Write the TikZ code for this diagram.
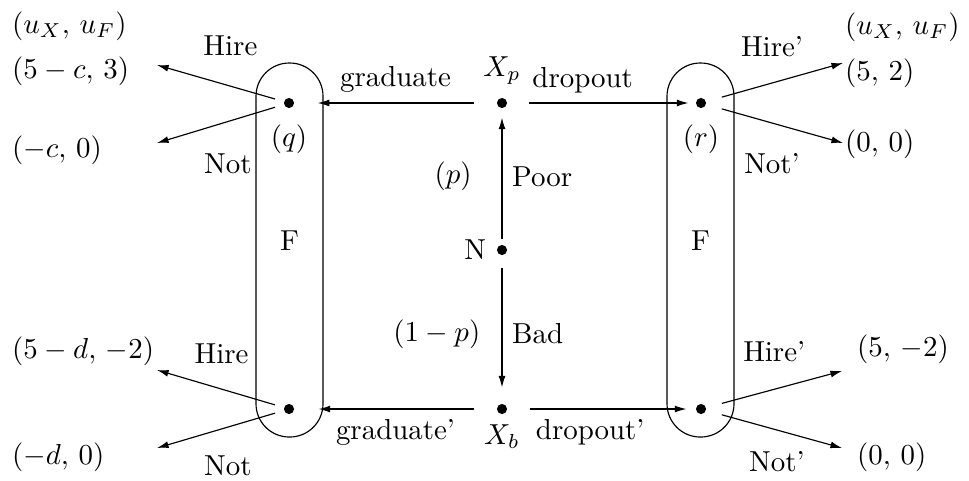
\documentclass[tikz,border=0pt]{standalone}
\usepackage{amsmath}
\usetikzlibrary{arrows.meta, positioning, fit}

\begin{document}
\begin{tikzpicture}[
    x=0.346pt, y=-0.346pt,
    dot/.style={circle, fill=black, inner sep=0pt, minimum size=3.5pt},
    infoset/.style={draw, rounded corners=11.5pt, inner sep=0pt},
    move/.style={-{Latex[length=4pt, width=2.4pt]}},
    payoff/.style={anchor=west}
]
    \useasboundingbox (0,0) rectangle (969,480);

    % nature and the worker
    \node[dot, label={left:N}] (N) at (502,250) {};
    \node[dot, label={[label distance=1pt]above:$X_p$}] (Xp) at (502,103) {};
    \node[dot, label={below:$X_b$}] (Xb) at (502,409) {};

    % firm nodes
    \node[dot, label={[label distance=2pt]below:$(q)$}] (q) at (289,103) {};
    \node[dot] (qb) at (289,409) {};
    \node[dot, label={[label distance=2pt]below:$(r)$}] (r) at (701,103) {};
    \node[dot] (rb) at (701,409) {};

    % information sets
    \node[infoset, fit={(256,63) (323,437)}] (Fl) {F};
    \node[infoset, fit={(667,63) (734,437)}] (Fr) {F};

    % payoffs
    \node[payoff] (ul) at (2,26) {$(u_X{,}\ u_F)$};
    \node[payoff] (pqh) at (2,71) {$(5-c{,}\ 3)$};
    \node[payoff] (pqn) at (2,150) {$(-c{,}\ 0)$};
    \node[payoff] (pbh) at (2,351) {$(5-d{,}\ {-2})$};
    \node[payoff] (pbn) at (2,457) {$(-d{,}\ 0)$};
    \node[payoff] (ur) at (835,27) {$(u_X{,}\ u_F)$};
    \node[payoff] (prh) at (835,73) {$(5{,}\ 2)$};
    \node[payoff] (prn) at (835,144) {$(0{,}\ 0)$};
    \node[payoff] (pdh) at (847,349) {$(5{,}\ {-2})$};
    \node[payoff] (pdn) at (847,457) {$(0{,}\ 0)$};

    \coordinate (tqh) at (157,65);
    \coordinate (tqn) at (157,143);
    \coordinate (tbh) at (157,370);
    \coordinate (tbn) at (157,448);
    \coordinate (trh) at (843,63);
    \coordinate (trn) at (843,143);
    \coordinate (tdh) at (842,371);
    \coordinate (tdn) at (842,448);

    % nature's move
    \draw[move, shorten <=1.7pt, shorten >=3.1pt] (N) -- node[right] {Poor} node[left=7pt] {$(p)$} (Xp);
    \draw[move, shorten <=4.2pt, shorten >=5.5pt] (N) -- node[right, pos=.53] {Bad} node[left=4pt, pos=.53] {$(1-p)$} (Xb);

    % worker's move
    \draw[move, shorten <=7.6pt, shorten >=8pt] (Xp) -- node[above] {graduate} (q);
    \draw[move, shorten <=7.3pt, shorten >=2.4pt] (Xp) -- node[above, pos=.4] {dropout} (r);
    \draw[move, shorten <=7.6pt, shorten >=8.3pt] (Xb) -- node[below] {graduate'} (qb);
    \draw[move, shorten <=7.6pt, shorten >=3.1pt] (Xb) -- node[below, pos=.44] {dropout'} (rb);

    % firm's move
    \draw[move, shorten <=3.1pt] (q) -- node[pos=.42, above=7pt] {Hire} (tqh);
    \draw[move, shorten <=3.1pt] (q) -- node[pos=.44, below=7.7pt] {Not} (tqn);
    \draw[move, shorten <=3.1pt] (qb) -- node[pos=.49, above=5.3pt] {Hire} (tbh);
    \draw[move, shorten <=3.1pt] (qb) -- node[pos=.44, below=6.5pt] {Not} (tbn);
    \draw[move, shorten <=5.5pt] (r) -- node[pos=.48, above=5.6pt] {Hire'} (trh);
    \draw[move, shorten <=5.5pt] (r) -- node[pos=.48, below=7pt] {Not'} (trn);
    \draw[move, shorten <=5.5pt] (rb) -- node[pos=.5, above=6pt] {Hire'} (tdh);
    \draw[move, shorten <=5.5pt] (rb) -- node[pos=.52, below=4pt] {Not'} (tdn);
\end{tikzpicture}
\end{document}
